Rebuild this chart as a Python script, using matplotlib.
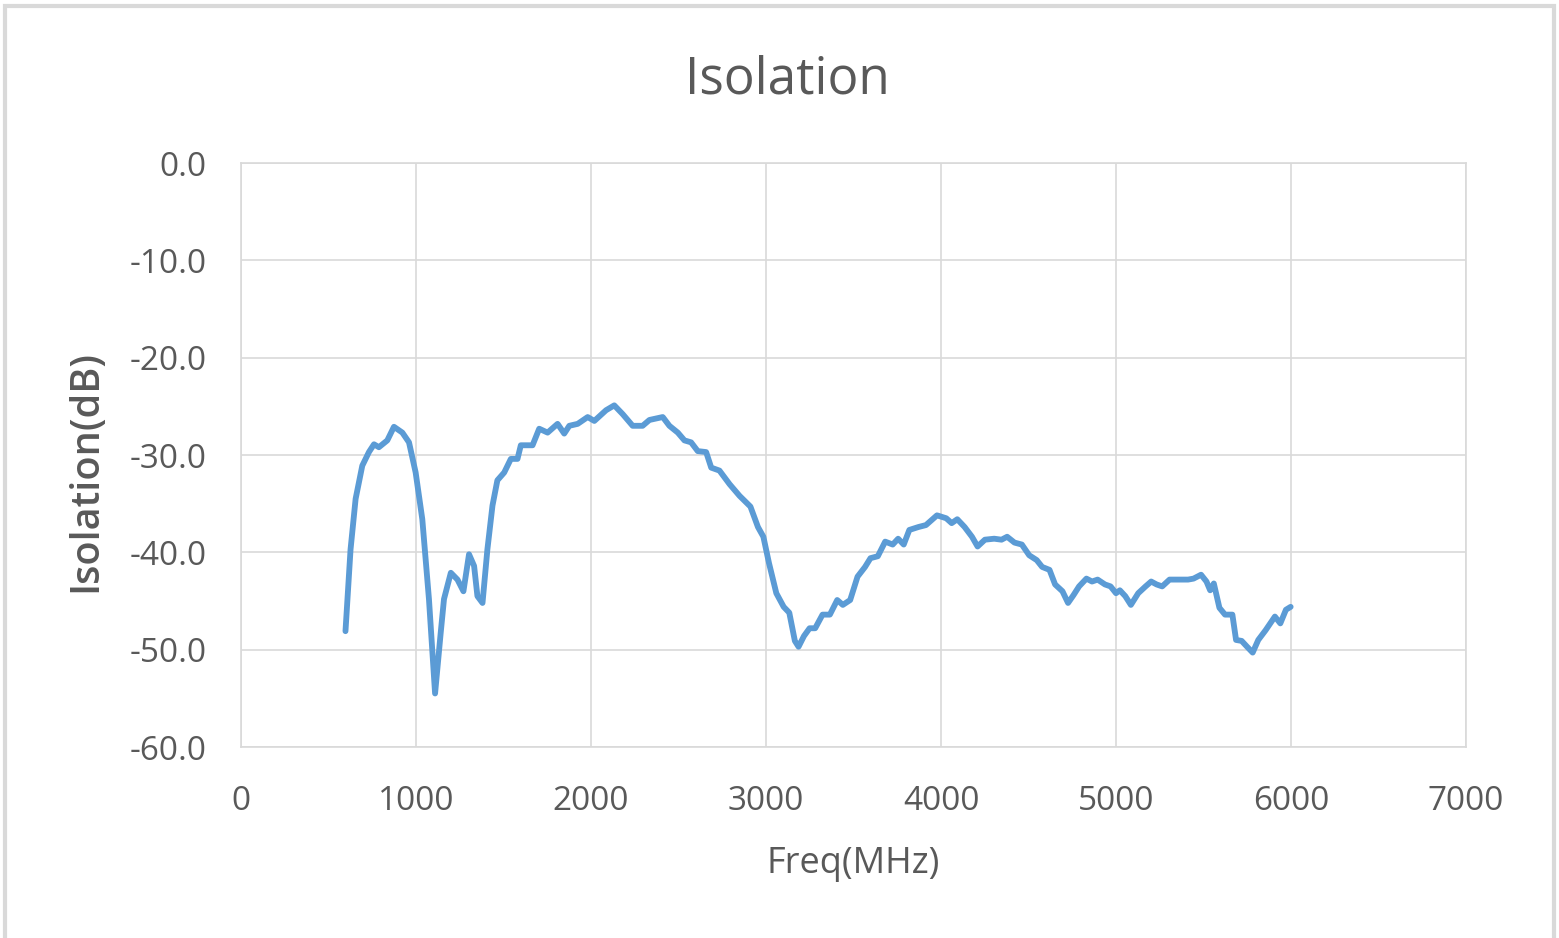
import matplotlib.pyplot as plt
from matplotlib.patches import Rectangle

# frequency (MHz) and isolation (dB)
freq = [597, 626, 655, 693, 731, 760, 788, 836, 874, 922, 960, 998, 1036, 1074,
        1109, 1141, 1160, 1199, 1237, 1271, 1303, 1332, 1351, 1380, 1408, 1437,
        1465, 1504, 1542, 1580, 1599, 1666, 1704, 1752, 1809, 1847, 1876, 1924,
        1981, 2019, 2086, 2133, 2181, 2238, 2295, 2334, 2410, 2448, 2496, 2534,
        2572, 2610, 2658, 2687, 2734, 2792, 2849, 2911, 2954, 2985, 3017, 3059,
        3101, 3133, 3165, 3186, 3217, 3249, 3281, 3323, 3365, 3407, 3439, 3481,
        3523, 3566, 3597, 3639, 3681, 3724, 3755, 3787, 3819, 3871, 3914, 3977,
        4030, 4061, 4093, 4135, 4177, 4209, 4251, 4304, 4346, 4378, 4420, 4462,
        4504, 4547, 4578, 4620, 4652, 4694, 4726, 4757, 4789, 4831, 4863, 4895,
        4937, 4969, 5000, 5022, 5053, 5085, 5127, 5169, 5201, 5232, 5264, 5306,
        5359, 5412, 5443, 5486, 5517, 5538, 5559, 5591, 5623, 5665, 5686, 5718,
        5749, 5781, 5813, 5855, 5908, 5939, 5971, 5998]
isolation = [-48.1, -39.7, -34.5, -31.1, -29.7, -28.9, -29.2, -28.5, -27.1, -27.7,
             -28.7, -31.8, -36.6, -44.8, -54.5, -48.3, -44.8, -42.1, -42.8, -44.0,
             -40.2, -41.4, -44.5, -45.2, -39.7, -35.2, -32.6, -31.8, -30.4, -30.4,
             -29.0, -29.0, -27.3, -27.7, -26.8, -27.8, -27.0, -26.8, -26.1, -26.5,
             -25.4, -24.9, -25.8, -27.0, -27.0, -26.4, -26.1, -27.0, -27.7, -28.5,
             -28.7, -29.6, -29.7, -31.3, -31.6, -33.0, -34.2, -35.3, -37.4, -38.4,
             -41.1, -44.2, -45.6, -46.2, -49.1, -49.7, -48.6, -47.8, -47.8, -46.4,
             -46.4, -44.9, -45.4, -44.9, -42.5, -41.5, -40.6, -40.4, -38.9, -39.2,
             -38.6, -39.2, -37.7, -37.4, -37.2, -36.2, -36.5, -37.0, -36.6, -37.4,
             -38.4, -39.4, -38.7, -38.6, -38.7, -38.4, -39.0, -39.2, -40.3, -40.8,
             -41.5, -41.8, -43.3, -44.0, -45.2, -44.4, -43.5, -42.7, -43.0, -42.8,
             -43.3, -43.5, -44.2, -43.9, -44.5, -45.4, -44.2, -43.5, -43.0, -43.3,
             -43.5, -42.8, -42.8, -42.8, -42.7, -42.3, -43.0, -43.9, -43.2, -45.7,
             -46.4, -46.4, -49.0, -49.1, -49.7, -50.3, -49.0, -48.0, -46.6, -47.3,
             -45.9, -45.6]

xticks = [0, 1000, 2000, 3000, 4000, 5000, 6000, 7000]
yticks = [0, -10, -20, -30, -40, -50, -60]

W, H = 1559, 938
text_col = '#595959'
grid_col = '#d9d9d9'

plt.rcParams['font.family'] = ['Open Sans', 'DejaVu Sans']

fig = plt.figure(figsize=(W / 100, H / 100), dpi=100)
ax = fig.add_axes([241 / W, 1 - 747 / H, (1466 - 241) / W, (747 - 163) / H])

ax.plot(freq, isolation, color='#5b9bd5', linewidth=4.2, solid_joinstyle='round',
        solid_capstyle='round', zorder=3)

ax.set_xlim(0, 7000)
ax.set_ylim(-60, 0)
ax.set_xticks(xticks)
ax.set_yticks(yticks)
ax.set_xticklabels([str(t) for t in xticks])
ax.set_yticklabels(['%.1f' % t for t in yticks])
ax.tick_params(axis='both', length=0, labelsize=24, labelcolor=text_col)
ax.tick_params(axis='x', pad=27)
ax.tick_params(axis='y', pad=25)

ax.grid(True, color=grid_col, linewidth=1.2)
ax.set_axisbelow(True)
for s in ax.spines.values():
    s.set_color(grid_col)
    s.set_linewidth(1.2)

fig.text(787 / W, 1 - 93 / H, 'Isolation', ha='center', va='baseline',
         fontsize=37, color=text_col)
fig.text(853 / W, 1 - 873 / H, 'Freq(MHz)', ha='center', va='baseline',
         fontsize=26, color=text_col)
fig.text(86 / W, 1 - 471 / H, 'Isolation(dB)', ha='center', va='center',
         rotation=90, fontsize=28.5, fontweight='semibold', color=text_col)

# outer chart border (bottom edge is cut off in the reference)
fig.patches.append(Rectangle((5 / W, -0.05), (1554 - 5) / W, 1.05 - 6 / H,
                             transform=fig.transFigure, fill=False,
                             edgecolor=grid_col, linewidth=3))

fig.savefig('out.png', dpi=100, facecolor='white')
